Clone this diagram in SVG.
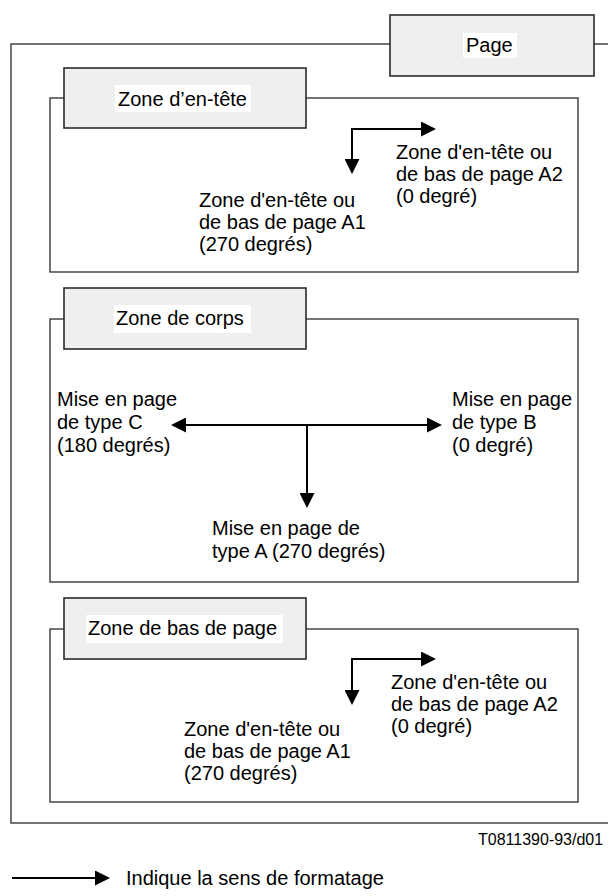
<svg xmlns="http://www.w3.org/2000/svg" width="608" height="896" viewBox="0 0 608 896">
  <defs>
    <style>
      .frame { fill: none; stroke: #3a3a3a; stroke-width: 1.4; }
      .tab { fill: #efefef; stroke: #2a2a2a; stroke-width: 1.6; }
      .bg { fill: #ffffff; stroke: none; }
      .lbl { font-family: "Liberation Sans", Arial, sans-serif; font-size: 20px; fill: #000; }
      .small { font-family: "Liberation Sans", Arial, sans-serif; font-size: 16px; fill: #000; }
      .flow { fill: none; stroke: #000; stroke-width: 2; marker-end: url(#head); }
      .flow2 { fill: none; stroke: #000; stroke-width: 2; marker-start: url(#head); marker-end: url(#head); }
    </style>
    <marker id="head" markerUnits="userSpaceOnUse" markerWidth="15" markerHeight="15" viewBox="0 0 15 15" refX="0" refY="7.5" orient="auto-start-reverse">
      <path d="M0,0 L15,7.5 L0,15 z" fill="#000"/>
    </marker>
  </defs>

  <!-- page frame -->
  <g id="page">
    <rect class="frame" x="11" y="44" width="700" height="779"/>
    <rect class="tab" x="390" y="15" width="204" height="61"/>
    <rect class="bg" x="463" y="33" width="54" height="25"/>
    <text class="lbl" x="466" y="52">Page</text>
  </g>

  <!-- header zone -->
  <g id="zone-entete">
    <rect class="frame" x="50" y="98" width="528" height="174"/>
    <rect class="tab" x="64" y="68" width="242" height="60"/>
    <rect class="bg" x="115" y="85" width="136" height="27"/>
    <text class="lbl" x="118" y="106">Zone d’en-tête</text>
    <text class="lbl" x="396" y="159">Zone d'en-tête ou</text>
    <text class="lbl" x="396" y="181">de bas de page A2</text>
    <text class="lbl" x="396" y="203">(0 degré)</text>
    <text class="lbl" x="199" y="207">Zone d'en-tête ou</text>
    <text class="lbl" x="199" y="229">de bas de page A1</text>
    <text class="lbl" x="199" y="251">(270 degrés)</text>
  </g>

  <!-- body zone -->
  <g id="zone-corps">
    <rect class="frame" x="50" y="319" width="528" height="263"/>
    <rect class="tab" x="64" y="288" width="242" height="61"/>
    <rect class="bg" x="114" y="305" width="137" height="28"/>
    <text class="lbl" x="116" y="325">Zone de corps</text>
    <text class="lbl" x="57" y="406">Mise en page</text>
    <text class="lbl" x="57" y="429">de type C</text>
    <text class="lbl" x="57" y="452">(180 degrés)</text>
    <text class="lbl" x="452" y="406">Mise en page</text>
    <text class="lbl" x="452" y="429">de type B</text>
    <text class="lbl" x="452" y="452">(0 degré)</text>
    <text class="lbl" x="212" y="535">Mise en page de</text>
    <text class="lbl" x="212" y="558">type A (270 degrés)</text>
  </g>

  <!-- footer zone -->
  <g id="zone-bas">
    <rect class="frame" x="50" y="629" width="528" height="173"/>
    <rect class="tab" x="64" y="598" width="242" height="61"/>
    <rect class="bg" x="86" y="615" width="197" height="28"/>
    <text class="lbl" x="88" y="635">Zone de bas de page</text>
    <text class="lbl" x="391" y="689">Zone d'en-tête ou</text>
    <text class="lbl" x="391" y="711">de bas de page A2</text>
    <text class="lbl" x="391" y="733">(0 degré)</text>
    <text class="lbl" x="184" y="736">Zone d'en-tête ou</text>
    <text class="lbl" x="184" y="758">de bas de page A1</text>
    <text class="lbl" x="184" y="780">(270 degrés)</text>
  </g>

  <!-- formatting direction arrows -->
  <g id="connectors">
    <path class="flow2" d="M421,129 H352 V159"/>
    <path class="flow2" d="M186,425 H427"/>
    <path class="flow" d="M307,425 V493"/>
    <path class="flow2" d="M421,659 H352 V690"/>
    <path class="flow" d="M12,878 H95"/>
  </g>

  <g id="legend">
    <text class="small" x="478" y="845">T0811390-93/d01</text>
    <text class="lbl" x="126" y="885">Indique la sens de formatage</text>
  </g>
</svg>
